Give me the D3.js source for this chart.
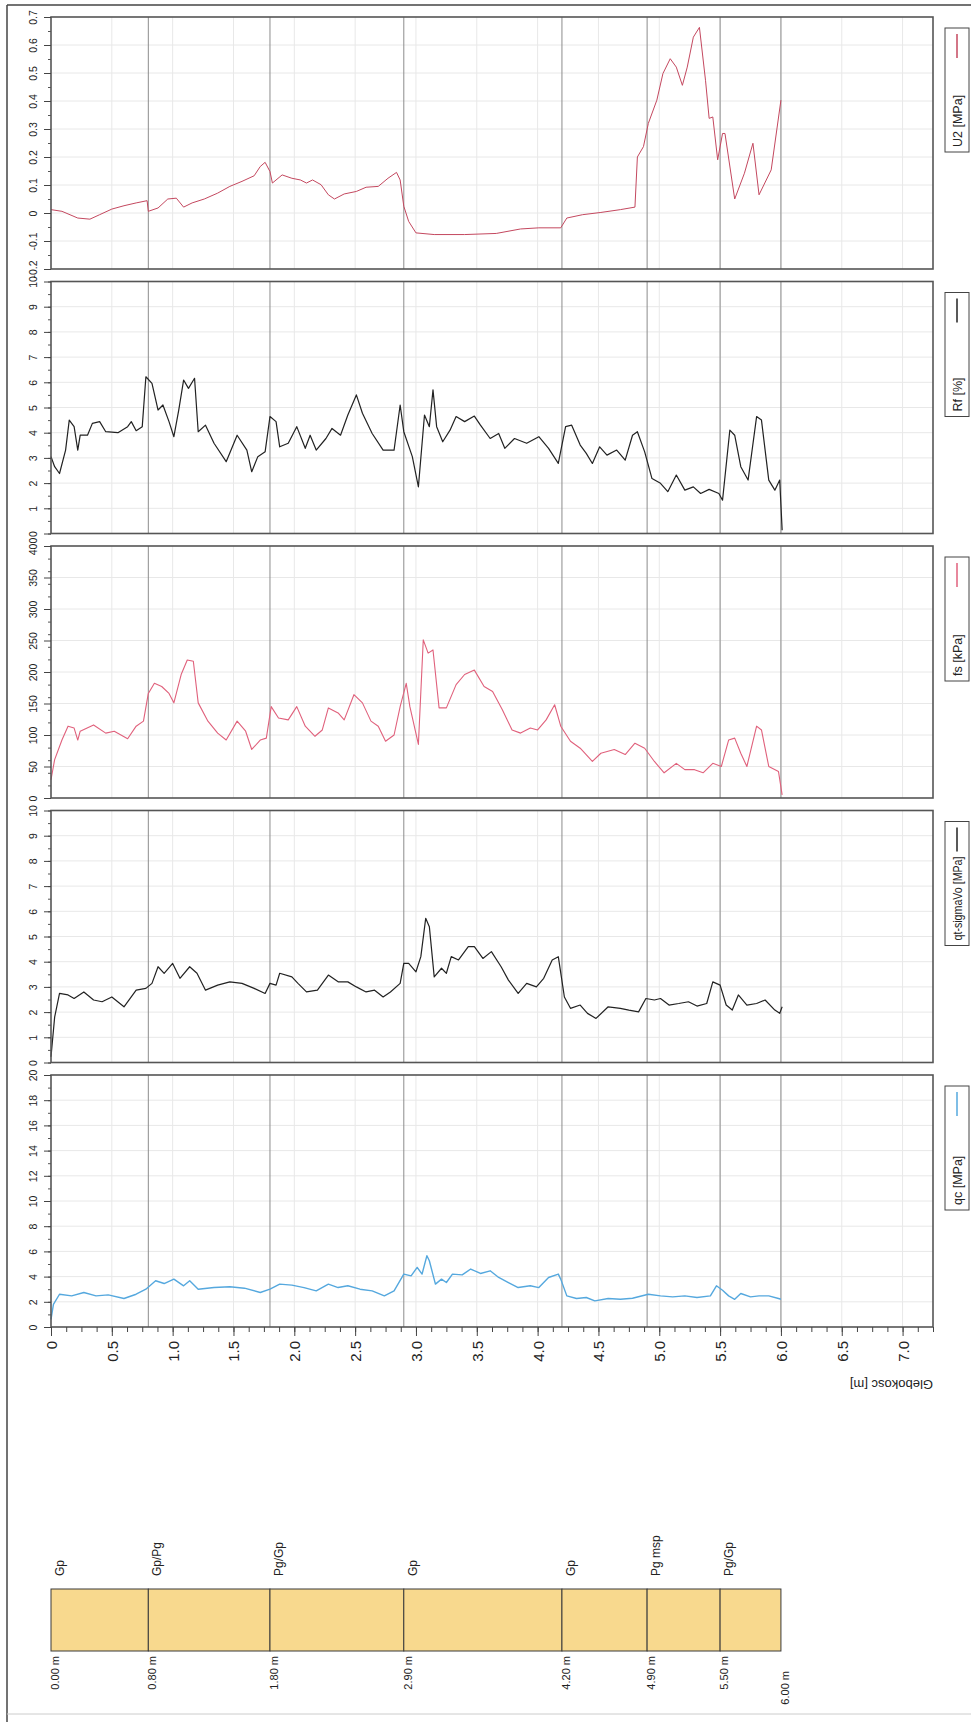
<!DOCTYPE html>
<html>
<head>
<meta charset="utf-8">
<script src="https://cdn.jsdelivr.net/npm/d3@7"></script>
<style>
  body { margin: 0; background: #fff; }
  svg { display: block; font-family: "Liberation Sans", Arial, sans-serif; }
</style>
</head>
<body>
<svg id="chart" width="971" height="1722"></svg>
<script>
// --- data (depth [m], value) ---
const u2Data = [[0,0.012],[0.09,0.006],[0.22,-0.018],[0.32,-0.022],[0.40,-0.006],[0.50,0.014],[0.60,0.026],[0.70,0.036],[0.79,0.044],[0.80,0.006],[0.88,0.018],[0.96,0.05],[1.03,0.053],[1.09,0.021],[1.16,0.036],[1.26,0.05],[1.37,0.071],[1.47,0.095],[1.57,0.113],[1.67,0.133],[1.72,0.166],[1.76,0.181],[1.80,0.148],[1.82,0.107],[1.90,0.136],[1.98,0.124],[2.05,0.118],[2.10,0.107],[2.15,0.118],[2.22,0.101],[2.28,0.065],[2.33,0.05],[2.41,0.068],[2.51,0.077],[2.59,0.092],[2.69,0.095],[2.77,0.124],[2.84,0.145],[2.87,0.118],[2.90,0.024],[2.94,-0.03],[3.00,-0.071],[3.15,-0.077],[3.40,-0.077],[3.66,-0.073],[3.86,-0.057],[4.01,-0.053],[4.19,-0.053],[4.24,-0.018],[4.37,-0.006],[4.52,0.002],[4.68,0.012],[4.80,0.021],[4.82,0.20],[4.87,0.237],[4.91,0.32],[4.98,0.403],[5.03,0.498],[5.09,0.551],[5.14,0.521],[5.19,0.456],[5.23,0.521],[5.28,0.628],[5.33,0.663],[5.38,0.474],[5.41,0.338],[5.44,0.343],[5.48,0.19],[5.52,0.284],[5.54,0.284],[5.62,0.05],[5.70,0.142],[5.77,0.249],[5.82,0.065],[5.92,0.154],[6.00,0.403]];

const rfData = [[0,3.05],[0.03,2.65],[0.07,2.38],[0.12,3.31],[0.15,4.5],[0.19,4.24],[0.22,3.31],[0.24,3.9],[0.30,3.9],[0.34,4.37],[0.40,4.44],[0.45,4.04],[0.55,4.0],[0.63,4.24],[0.66,4.44],[0.70,4.08],[0.75,4.24],[0.78,6.22],[0.83,5.96],[0.88,4.9],[0.92,5.1],[0.97,4.44],[1.01,3.84],[1.05,4.9],[1.09,6.09],[1.13,5.76],[1.18,6.16],[1.21,4.04],[1.27,4.3],[1.34,3.58],[1.44,2.85],[1.53,3.9],[1.61,3.31],[1.65,2.45],[1.70,3.05],[1.76,3.24],[1.80,4.64],[1.85,4.44],[1.88,3.44],[1.95,3.58],[2.02,4.24],[2.09,3.38],[2.13,3.9],[2.18,3.31],[2.26,3.77],[2.31,4.17],[2.38,3.9],[2.44,4.7],[2.51,5.5],[2.56,4.77],[2.64,3.97],[2.73,3.31],[2.82,3.31],[2.87,5.1],[2.90,4.04],[2.97,3.05],[3.02,1.85],[3.07,4.7],[3.11,4.24],[3.14,5.7],[3.17,4.24],[3.22,3.64],[3.28,4.1],[3.33,4.64],[3.40,4.44],[3.48,4.66],[3.53,4.3],[3.61,3.77],[3.68,3.97],[3.73,3.38],[3.81,3.77],[3.91,3.58],[4.01,3.84],[4.09,3.38],[4.17,2.78],[4.23,4.24],[4.28,4.3],[4.35,3.51],[4.40,3.18],[4.45,2.78],[4.51,3.44],[4.57,3.11],[4.65,3.31],[4.72,2.91],[4.78,3.9],[4.82,4.04],[4.88,3.24],[4.94,2.18],[5.01,1.99],[5.07,1.66],[5.14,2.32],[5.21,1.72],[5.28,1.85],[5.34,1.59],[5.41,1.75],[5.49,1.59],[5.52,1.32],[5.58,4.1],[5.62,3.9],[5.67,2.65],[5.73,2.12],[5.80,4.64],[5.84,4.5],[5.90,2.12],[5.95,1.72],[5.99,2.12],[6.01,0.13]];

const fsData = [[0,29],[0.03,61],[0.09,92],[0.14,114],[0.19,111],[0.22,92],[0.24,106],[0.35,116],[0.45,103],[0.52,106],[0.63,94],[0.70,114],[0.76,122],[0.80,166],[0.85,182],[0.91,177],[0.97,166],[1.01,151],[1.07,196],[1.12,219],[1.17,217],[1.21,151],[1.29,122],[1.37,103],[1.44,92],[1.53,122],[1.60,106],[1.65,77],[1.72,92],[1.77,95],[1.81,145],[1.87,127],[1.95,124],[2.02,145],[2.09,114],[2.17,98],[2.23,108],[2.28,143],[2.36,135],[2.41,124],[2.49,164],[2.56,151],[2.63,122],[2.69,114],[2.75,90],[2.82,100],[2.87,145],[2.92,182],[2.95,145],[3.02,85],[3.06,251],[3.10,230],[3.14,235],[3.19,143],[3.25,143],[3.33,180],[3.40,196],[3.48,203],[3.56,177],[3.63,169],[3.71,140],[3.79,108],[3.86,103],[3.94,111],[4.00,108],[4.07,124],[4.14,148],[4.19,114],[4.27,90],[4.35,79],[4.45,58],[4.52,71],[4.63,77],[4.72,69],[4.80,87],[4.88,79],[4.96,58],[5.04,40],[5.14,55],[5.21,45],[5.29,45],[5.36,40],[5.44,55],[5.51,50],[5.57,92],[5.62,95],[5.67,71],[5.72,50],[5.80,114],[5.84,108],[5.90,50],[5.98,42],[6.01,5]];

const qtData = [[0,0.23],[0.03,1.8],[0.07,2.74],[0.14,2.68],[0.19,2.54],[0.27,2.8],[0.35,2.48],[0.42,2.41],[0.50,2.6],[0.60,2.21],[0.70,2.87],[0.78,2.94],[0.83,3.14],[0.88,3.8],[0.93,3.54],[1.00,3.93],[1.06,3.34],[1.14,3.8],[1.20,3.54],[1.27,2.87],[1.37,3.07],[1.47,3.2],[1.57,3.14],[1.67,2.94],[1.76,2.74],[1.80,3.14],[1.85,3.07],[1.88,3.54],[1.98,3.4],[2.03,3.14],[2.10,2.8],[2.19,2.87],[2.28,3.47],[2.36,3.2],[2.44,3.2],[2.51,3.0],[2.59,2.8],[2.66,2.87],[2.73,2.6],[2.79,2.8],[2.87,3.14],[2.90,3.93],[2.94,3.93],[3.00,3.6],[3.04,4.2],[3.08,5.72],[3.11,5.39],[3.15,3.4],[3.21,3.74],[3.25,3.54],[3.29,4.2],[3.35,4.07],[3.43,4.6],[3.48,4.6],[3.55,4.13],[3.62,4.4],[3.70,3.8],[3.76,3.27],[3.84,2.74],[3.91,3.14],[3.99,3.0],[4.05,3.34],[4.12,4.07],[4.17,4.2],[4.22,2.6],[4.27,2.15],[4.35,2.28],[4.41,1.95],[4.48,1.75],[4.58,2.21],[4.68,2.15],[4.75,2.08],[4.83,2.01],[4.89,2.54],[4.96,2.48],[5.01,2.54],[5.08,2.28],[5.16,2.34],[5.24,2.41],[5.31,2.24],[5.39,2.34],[5.44,3.2],[5.50,3.07],[5.55,2.28],[5.60,2.08],[5.65,2.68],[5.72,2.28],[5.80,2.34],[5.87,2.48],[5.95,2.08],[5.99,1.95],[6.01,2.21]];

const qcData = [[0,0.6],[0.02,1.8],[0.07,2.6],[0.17,2.47],[0.27,2.74],[0.37,2.47],[0.47,2.55],[0.60,2.26],[0.70,2.6],[0.78,3.0],[0.86,3.67],[0.93,3.45],[1.01,3.8],[1.09,3.27],[1.14,3.67],[1.21,3.0],[1.34,3.13],[1.47,3.19],[1.59,3.08],[1.72,2.74],[1.80,3.0],[1.88,3.4],[1.98,3.32],[2.08,3.13],[2.18,2.87],[2.28,3.4],[2.36,3.13],[2.44,3.27],[2.54,3.0],[2.64,2.87],[2.74,2.47],[2.82,2.87],[2.90,4.2],[2.96,4.06],[3.01,4.73],[3.05,4.2],[3.09,5.66],[3.11,5.26],[3.16,3.4],[3.21,3.8],[3.25,3.53],[3.30,4.2],[3.38,4.14],[3.45,4.6],[3.53,4.25],[3.61,4.46],[3.68,3.93],[3.76,3.53],[3.84,3.13],[3.94,3.27],[4.01,3.13],[4.09,3.93],[4.17,4.2],[4.19,3.8],[4.24,2.47],[4.32,2.26],[4.40,2.34],[4.47,2.07],[4.58,2.26],[4.68,2.2],[4.78,2.28],[4.91,2.6],[5.01,2.47],[5.11,2.39],[5.21,2.47],[5.31,2.34],[5.42,2.47],[5.47,3.27],[5.52,2.92],[5.57,2.47],[5.62,2.2],[5.67,2.66],[5.75,2.39],[5.82,2.47],[5.90,2.47],[5.98,2.26],[6.0,2.2]];

// soil layers
const layerTops = [0, 0.8, 1.8, 2.9, 4.2, 4.9, 5.5];
const layerBottom = 6.0;
const layerNames = ["Gp", "Gp/Pg", "Pg/Gp", "Gp", "Gp", "Pg msp", "Pg/Gp"];
const depthTitle = "Glebokosc [m]";

const svg = d3.select("#chart");
const font = "Liberation Sans, Arial, sans-serif";

// depth runs left -> right (chart is printed sideways)
const x = d3.scaleLinear().domain([0, 7.25]).range([51, 933]);

const panels = [
  { name: "U2 [MPa]", data: u2Data, domain: [-0.2, 0.7], n: 9, color: "#c4485f", width: 1 },
  { name: "Rf [%]", data: rfData, domain: [0, 10], n: 10, color: "#222", width: 1.2 },
  { name: "fs [kPa]", data: fsData, domain: [0, 400], n: 8, color: "#e0617c", width: 1.1 },
  { name: "qt-sigmaVo [MPa]", data: qtData, domain: [0, 10], n: 10, color: "#222", width: 1.2 },
  { name: "qc [MPa]", data: qcData, domain: [0, 20], n: 10, color: "#55a8de", width: 1.4 }
];

const panelH = 252;
const boundaries = layerTops.slice(1).concat([layerBottom]);
const fmt = v => String(+v.toFixed(2));

// outer frame of the sheet
svg.append("line").attr("x1", 7).attr("y1", 5).attr("x2", 971).attr("y2", 5)
  .attr("stroke", "#444").attr("stroke-width", 1.5);
svg.append("line").attr("x1", 7).attr("y1", 5).attr("x2", 7).attr("y2", 1722)
  .attr("stroke", "#444").attr("stroke-width", 1.5);
svg.append("line").attr("x1", 7).attr("y1", 1714).attr("x2", 971).attr("y2", 1714)
  .attr("stroke", "#ccc").attr("stroke-width", 1);

panels.forEach((p, i) => {
  const top = 17 + i * 264.5;
  const y = d3.scaleLinear().domain(p.domain).range([top + panelH, top]);
  const g = svg.append("g");

  // light grid
  g.selectAll(".vgrid").data(d3.range(0.5, 7.25, 0.5)).join("line")
    .attr("x1", d => x(d)).attr("x2", d => x(d))
    .attr("y1", top).attr("y2", top + panelH)
    .attr("stroke", "#e8e8e8");
  g.selectAll(".hgrid").data(y.ticks(p.n).slice(1, -1)).join("line")
    .attr("x1", x(0)).attr("x2", x(7.25))
    .attr("y1", d => y(d)).attr("y2", d => y(d))
    .attr("stroke", "#e8e8e8");

  // layer boundaries
  g.selectAll(".layer").data(boundaries).join("line")
    .attr("x1", d => x(d)).attr("x2", d => x(d))
    .attr("y1", top).attr("y2", top + panelH)
    .attr("stroke", "#8c8c8c").attr("stroke-width", 1);

  // curve
  g.append("path")
    .datum(p.data)
    .attr("fill", "none")
    .attr("stroke", p.color)
    .attr("stroke-width", p.width)
    .attr("stroke-linejoin", "round")
    .attr("d", d3.line().x(d => x(d[0])).y(d => y(d[1])));

  // frame
  g.append("rect")
    .attr("x", x(0)).attr("y", top)
    .attr("width", x(7.25) - x(0)).attr("height", panelH)
    .attr("fill", "none").attr("stroke", "#555").attr("stroke-width", 1.6);

  // value axis (left)
  const minor = g.append("g").attr("transform", `translate(${x(0)},0)`)
    .call(d3.axisLeft(y).ticks(p.n * 2).tickSize(3).tickFormat(""));
  minor.select(".domain").remove();
  minor.selectAll("line").attr("stroke", "#555");

  const major = g.append("g").attr("transform", `translate(${x(0)},0)`)
    .call(d3.axisLeft(y).ticks(p.n).tickSize(7).tickFormat(fmt));
  major.select(".domain").remove();
  major.selectAll("line").attr("stroke", "#444");
  major.selectAll("text")
    .attr("x", null).attr("dy", null)
    .attr("text-anchor", "middle")
    .attr("transform", "translate(-14,0) rotate(-90)")
    .attr("font-family", font).attr("font-size", 10.5).attr("fill", "#222");

  // legend box
  const lx = 945, ly = top + 11, lh = 124;
  const lg = svg.append("g");
  lg.append("rect").attr("x", lx).attr("y", ly).attr("width", 24).attr("height", lh)
    .attr("fill", "#fff").attr("stroke", "#444").attr("stroke-width", 1);
  lg.append("line").attr("x1", lx + 12).attr("x2", lx + 12)
    .attr("y1", ly + 6).attr("y2", ly + 30)
    .attr("stroke", p.color).attr("stroke-width", 1.5);
  const lt = lg.append("text")
    .attr("transform", `translate(${lx + 16.5},${ly + lh - 5}) rotate(-90)`)
    .attr("font-family", font).attr("font-size", 12.5).attr("fill", "#222")
    .text(p.name);
  if (lt.node().getComputedTextLength() > 84) {
    lt.attr("textLength", 84).attr("lengthAdjust", "spacingAndGlyphs");
  }
});

// depth axis under the last panel
const axisY = 17 + 4 * 264.5 + panelH;
const dMinor = svg.append("g").attr("transform", `translate(0,${axisY})`)
  .call(d3.axisBottom(x).tickValues(d3.range(0, 7.26, 0.125)).tickSize(5).tickFormat(""));
dMinor.select(".domain").remove();
dMinor.selectAll("line").attr("stroke", "#444");

const dMajor = svg.append("g").attr("transform", `translate(0,${axisY})`)
  .call(d3.axisBottom(x).tickValues(d3.range(0, 7.01, 0.5)).tickSize(9)
    .tickFormat(d => d === 0 ? "0" : d.toFixed(1)));
dMajor.select(".domain").remove();
dMajor.selectAll("line").attr("stroke", "#444");
dMajor.selectAll("text")
  .attr("y", null).attr("dy", null)
  .attr("text-anchor", "end")
  .attr("transform", "translate(5.5,14) rotate(-90)")
  .attr("font-family", font).attr("font-size", 15).attr("fill", "#222");

svg.append("text")
  .attr("transform", `translate(933,${axisY + 53}) rotate(180)`)
  .attr("font-family", font).attr("font-size", 13).attr("fill", "#222")
  .text(depthTitle);

// soil profile column
const colTop = 1589, colH = 62;
const layers = layerTops.map((t, i) => ({
  top: t,
  bottom: i + 1 < layerTops.length ? layerTops[i + 1] : layerBottom,
  name: layerNames[i]
}));

svg.selectAll(".soil").data(layers).join("rect")
  .attr("x", d => x(d.top)).attr("y", colTop)
  .attr("width", d => x(d.bottom) - x(d.top)).attr("height", colH)
  .attr("fill", "#f8d98e").attr("stroke", "#3a3a3a").attr("stroke-width", 1);

svg.selectAll(".soilName").data(layers).join("text")
  .attr("transform", d => `translate(${x(d.top) + 13},${colTop - 13}) rotate(-90)`)
  .attr("font-family", font).attr("font-size", 12).attr("fill", "#222")
  .text(d => d.name);

const depthMarks = layerTops.concat([layerBottom]);
svg.selectAll(".soilDepth").data(depthMarks).join("text")
  .attr("transform", (d, i) => `translate(${x(d) + 8},${i === depthMarks.length - 1 ? colTop + colH + 20 : colTop + colH + 5}) rotate(-90)`)
  .attr("text-anchor", "end")
  .attr("font-family", font).attr("font-size", 11).attr("fill", "#222")
  .text(d => d.toFixed(2) + " m");
</script>
</body>
</html>
